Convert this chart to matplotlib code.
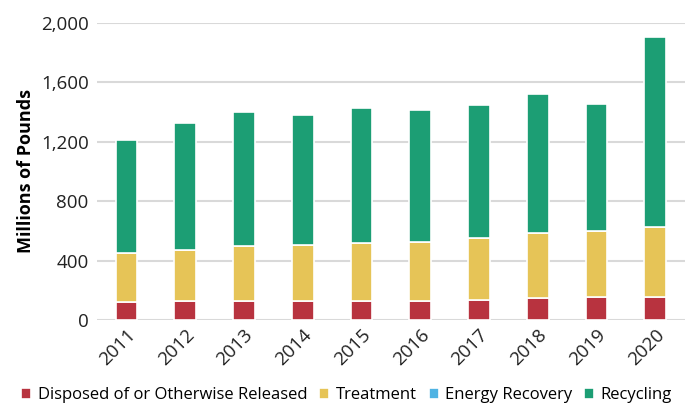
import numpy as np
import matplotlib.pyplot as plt

plt.rcParams['font.family'] = ['Open Sans', 'DejaVu Sans']

years = ['2011', '2012', '2013', '2014', '2015', '2016', '2017', '2018', '2019', '2020']
disposed = [124, 126, 126, 130, 130, 126, 137, 148, 153, 157]
treatment = [325, 345, 372, 373, 391, 399, 413, 436, 444, 471]
energy = [0, 0, 0, 0, 0, 0, 0, 0, 0, 0]
recycling = [761, 856, 900, 880, 904, 887, 896, 938, 856, 1278]

labels = ['Disposed of or Otherwise Released', 'Treatment', 'Energy Recovery', 'Recycling']
colors = ['#B8333F', '#E6C457', '#4FB3E3', '#1C9E74']
series = [disposed, treatment, energy, recycling]

fig = plt.figure(figsize=(6.89, 4.04), dpi=100)
ax = fig.add_axes([0.1408, 0.208, 0.853, 0.735])

x = np.arange(len(years))
bottom = np.zeros(len(years))
for vals, lab, col in zip(series, labels, colors):
    ax.bar(x, vals, 0.37, bottom=bottom, color=col, label=lab,
           edgecolor='white', linewidth=1.2, zorder=3)
    bottom += np.array(vals)

ax.set_xlim(-0.5, 9.5)
ax.set_ylim(0, 2000)
ax.set_yticks([0, 400, 800, 1200, 1600, 2000])
ax.set_yticklabels(['0', '400', '800', '1,200', '1,600', '2,000'])
ax.set_xticks(x)
ax.set_xticklabels(years, rotation=45, ha='right', rotation_mode='anchor')
ax.tick_params(axis='both', length=0, labelsize=13.5, colors='#222222')
ax.tick_params(axis='y', pad=6)
ax.tick_params(axis='x', pad=4)
ax.yaxis.grid(True, color='#d9d9d9', linewidth=1.5, zorder=0)
ax.set_axisbelow(True)
for s in ax.spines.values():
    s.set_visible(False)
ax.set_ylabel('Millions of Pounds', fontsize=13, fontweight='bold', labelpad=4)

ax.legend(loc='center left', bbox_to_anchor=(-0.14, -0.254), ncol=4, frameon=False,
          fontsize=12, handlelength=0.6, handleheight=0.6, handletextpad=0.4,
          columnspacing=0.7, borderaxespad=0)

fig.savefig('out.png', dpi=100)
